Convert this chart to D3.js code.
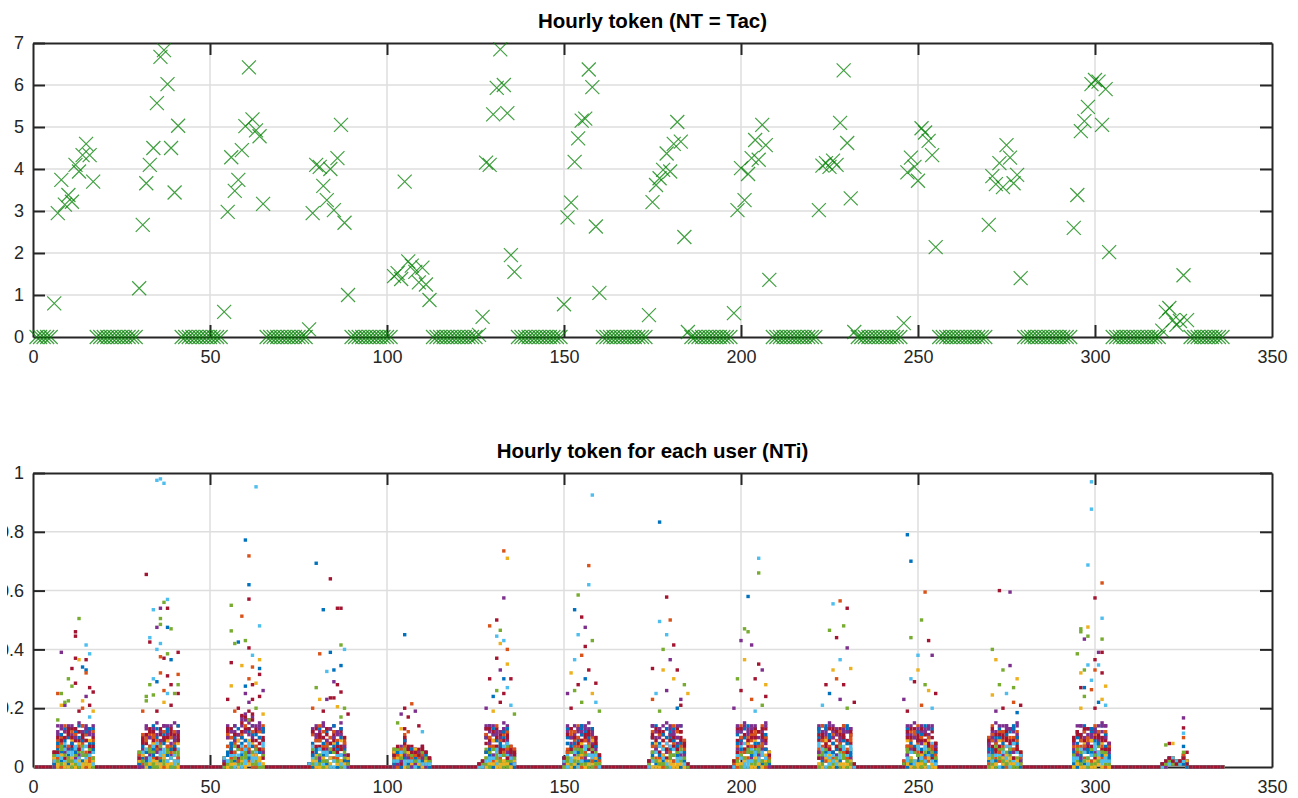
<!DOCTYPE html>
<html><head><meta charset="utf-8">
<script src="https://cdn.jsdelivr.net/npm/d3@7"></script>
<style>body{margin:0;background:#fff}svg text{font-family:"Liberation Sans",Arial,Helvetica,sans-serif}</style>
</head><body>
<svg id="c" width="1298" height="798"></svg>
<script>
// ---------- DATA ----------
// hourly token NT (hours 1..336), one row per day
const ntValues = [
0,0,0,0,0,0.8,2.95,3.74,3.15,3.38,3.22,4.1,3.94,4.33,4.6,4.33,3.7,0,0,0,0,0,0,0,
0,0,0,0,0,1.16,2.67,3.66,4.1,4.5,5.57,6.67,6.83,6.02,4.5,3.44,5.03,0,0,0,0,0,0,0,
0,0,0,0,0,0.6,2.98,4.28,3.48,3.74,4.45,5.02,6.42,5.18,4.92,4.78,3.17,0,0,0,0,0,0,0,
0,0,0,0,0,0.18,2.95,4.1,4.05,3.6,3.26,4.0,3.02,4.26,5.05,2.72,1.0,0,0,0,0,0,0,0,
0,0,0,0,0,1.45,1.52,1.38,3.7,1.8,1.7,1.55,1.3,1.65,1.25,0.88,0,0,0,0,0,0,0,0,
0,0,0,0,0,0.05,0.48,4.15,4.1,5.3,5.93,6.85,6.0,5.33,1.95,1.55,0,0,0,0,0,0,0,0,
0,0,0,0,0,0.78,2.85,3.2,4.17,4.73,5.15,5.2,6.37,5.95,2.63,1.05,0,0,0,0,0,0,0,0,
0,0,0,0,0,0.52,3.21,3.62,3.78,3.98,4.37,3.94,4.6,5.12,4.65,2.38,0.12,0,0,0,0,0,0,0,
0,0,0,0,0,0.57,3.02,4.02,3.26,3.88,4.26,4.69,4.22,5.05,4.57,1.36,0,0,0,0,0,0,0,0,
0,0,0,0,0,3.02,4.08,4.14,4.05,4.2,4.1,5.1,6.35,4.62,3.3,0.12,0,0,0,0,0,0,0,0,
0,0,0,0,0,0.33,3.92,4.27,4.05,3.72,4.97,4.87,4.67,4.33,2.14,0,0,0,0,0,0,0,0,0,
0,0,0,0,0,2.67,3.83,3.64,4.14,3.57,4.57,4.27,3.66,3.86,1.4,0,0,0,0,0,0,0,0,0,
0,0,0,0,0,2.6,3.38,4.9,5.14,5.48,6.02,6.12,6.08,5.05,5.9,2.02,0,0,0,0,0,0,0,0,
0,0,0,0,0,0,0.15,0.6,0.69,0.4,0.29,0.38,1.47,0.4,0,0,0,0,0,0,0,0,0,0
];
const xTicks = [0,50,100,150,200,250,300,350];
const ntTicks = [0,1,2,3,4,5,6,7];
const ntiTicks = [0,0.2,0.4,0.6,0.8,1];
const ntiTickLabels = ["0","0.2","0.4","0.6","0.8","1"];
const userColors = ["#0072BD","#D95319","#EDB120","#7E2F8E","#77AC30","#4DBEEE","#A2142F"];
const titles = ["Hourly token (NT = Tac)","Hourly token for each user (NTi)"];

// per-user hourly token inside each active window: one string per hour,
// one character per user (21 users), value in hundredths (base 36 digit)
const bandStart = [6,30,54,78,102,126,150,174,198,222,246,270,294,319];
const bandHours = [
 ["130421502314051230425","692b317470e52a831c245","5a3d608281974bb04e139","7c2a526d6150839e0c46a","4b2d17ca53e30b170625d","d29b6476a1803d8c3e25a","290316bc51d4795b0a12d","e38c529071463ca62f016","470e52a281974b9e0c46a","b04e1394b2d17cc51d479","170625d831c245d29b647","d6150838c3e25a692b317"],
 ["241503103521401420533","592813a3b064187140259","a53e30b5a3d608290316b","5b0a12d7c2a526071463c","6a1803de38c5294b2d17c","a62f016692b317d615083","831c245170625d281974b","9e0c46ab04e1398c3e25a","c51d479d29b647470e52a","071463ca53e30b6a1803d","281974ba62f0167c2a526","290316b9e0c46ae38c529"],
 ["130213021013200312031","4b2d17c470e52a5b0a12d","7c2a5266a1803d831c245","e38c529281974ba53e30b","692b317290316bd29b647","8c3g25a4b2h17ca63e30f","692i31d570g52c9e0c46h","c51f47gd29b64j3615g8d","e38h529b04e13i7c2a52g","170625d071463cb04e139","8c3e25a5a3d608a62f016","9e0c46ac51d479d615083"],
 ["010010100101001001010","831c245071463c4b2d17c","b04e1395b0a12d692b317","d29b6479e0c46a290316b","470e52aa62f0168c3e25a","c51d479281974b170625d","d6150836a1803d5a3d608","a53e30be38c5297c2a526","071463c692b317831c245","4b2d17cd29b647a62f016","39160286a04317281750a","130241304213022130144"],
 ["251630440612351350624","360514214260535031627","421703525306140642351","6a1934d37095289b0461a","517324636205171453026","264150741523626310425","153402652063143461205","413025325041360315424","362714561503272403516","241303513052434120315","130212320310120213213"],
 ["000010001000000001001","102011021010200210102","5a3d608a53e30b5b0a12d","e38c529470e52a6a1803d","b04e139d29b647071463c","170625d692b3179e0c46a","290316b7c2a526831c245","a62f0164b2d17cc51d479","281974b8c3e25ad615083","361502752034161704235","250413641305240621315"],
 ["213010310232123201023","d615083831c245a53e30b","6a1803d5b0a12d7c2a526","692b317071463c8c3e25a","9e0c46a170625d5a3d608","d29b647b04e139e38c529","470e52ac51d479290316b","4b2d17ca62f016281974b","831c2456a1803dd29b647","4a17209281350a7036148","203141314023243210104"],
 ["102101201202112012102","8c3e25aa53e30b470e52a","7c2a526e38c529170625d","5b0a12d831c2454b2d17c","071463c290316bb04e139","5a3d608d615083a62f016","a53e30b692b317c51d479","281974bd29b6479e0c46a","6a1803d470e52a7c2a526","e38c5298c3e25a071463c","381502959072172604318","010100010001010010011"],
 ["201012112010120120202","170625db04e139831c245","c51d4799e0c46a6a1803d","d615083a62f016a53e30b","692b3175a3d608e38c529","290316b4b2d17c470e52a","d29b6475b0a12d8c3e25a","831c2457c2a526071463c","9e0c46a281974b170625d","a62f0166a1803db04e139","251403540321531350244"],
 ["a53e30bc51d479d615083","470e52a9e0c46a290316b","e38c5295a3d608d29b647","b04e139170625da62f016","8c3e25a831c2455b0a12d","4b2d17c071463c692b317","6a1803d7c2a526281974b","c51d479a53e30b9e0c46a","d615083e38c529831c245","5a3d608290316b4b2d17c","100010000100100100101"],
 ["010201010010010201100","d29b647470e52a071463c","692b3178c3e25a170625d","5b0a12da62f0167c2a526","281974b9e0c46ac51d479","831c245b04e1396a1803d","4b2d17c290316be38c529","a53e30bd29b6475a3d608","071463cd615083470e52a","371502858062162407318"],
 ["491720a2a053186138049","9e0c46a692b3175b0a12d","a62f016831c245281974b","7c2a526d29b647a53e30b","290316b071463c8c3e25a","470e52a4b2d17cb04e139","170625dc51d4795a3d608","6a1803de38c529d615083","8c3e25a692b317a62f016","251304541052340352145"],
 ["3a16209591402a1708439","831c245a53e30b071463c","b04e139470e52a290316b","e38c5297c2a526170625d","5a3d6086a1803d692b317","c51d4795b0a12dd29b647","d6150834b2d17c9e0c46a","281974b831c2458c3e25a","a62f016e38c529470e52a","a53e30bb04e1397c2a526","281603747052183608126"],
 ["001010010000100101001","112021120111021210122","213122313221323213213","222132231122231232132","212212212212122112221","121221221211211222112","231342331422341423323","110121120111020121111"]
];
// isolated higher per-user values: [hour, NTi, colour index]
const spikes = [
 [8,0.39,3],[7,0.25,1],[8,0.25,4],[8,0.21,2],[9,0.21,3],[10,0.30,4],[11,0.275,4],[10,0.225,4],[9,0.22,4],[11,0.335,6],[12,0.46,6],[12,0.445,6],[12,0.37,6],[13,0.365,2],[12,0.285,6],[13,0.505,4],[14,0.34,0],[15,0.33,0],[15,0.365,6],[15,0.415,5],[16,0.385,5],[15,0.32,1],[16,0.27,6],[17,0.255,6],[14,0.225,2],[15,0.24,3],[16,0.21,6],[17,0.19,2],[13,0.19,6],[7,0.16,4],[14,0.2,1],[16,0.17,5],
 [32,0.655,6],[34,0.535,5],[36,0.54,3],[38,0.54,6],[37,0.56,4],[38,0.57,5],[36,0.505,4],[36,0.485,4],[35,0.475,3],[38,0.475,0],[39,0.47,4],[33,0.44,5],[33,0.425,6],[36,0.42,5],[35,0.40,5],[38,0.385,4],[41,0.39,6],[36,0.375,1],[37,0.37,6],[39,0.365,0],[36,0.32,1],[38,0.31,6],[41,0.315,1],[34,0.30,5],[35,0.29,0],[33,0.28,4],[39,0.28,6],[41,0.28,4],[34,0.245,4],[37,0.26,1],[38,0.25,5],[41,0.25,6],[40,0.25,4],[32,0.24,4],[37,0.22,2],[39,0.21,6],[35,0.19,6],[32,0.225,4],[31,0.19,1],[35,0.975,5],[36,0.98,5],[37,0.965,5],
 [63,0.953,5],[60,0.772,0],[61,0.718,1],[61,0.62,0],[61,0.571,6],[56,0.55,4],[59,0.513,1],[64,0.48,5],[56,0.463,4],[60,0.43,4],[58,0.425,0],[57,0.42,4],[61,0.405,6],[62,0.38,5],[59,0.345,2],[56,0.355,6],[64,0.365,2],[62,0.34,1],[64,0.335,0],[64,0.315,6],[60,0.275,0],[63,0.285,2],[61,0.30,1],[62,0.28,6],[56,0.276,2],[65,0.26,3],[55,0.23,6],[64,0.24,6],[62,0.23,6],[61,0.22,3],[60,0.25,3],[58,0.20,6],[57,0.19,1],[63,0.2,4],[59,0.175,6],[65,0.18,2],
 [80,0.693,0],[84,0.64,6],[82,0.535,0],[86,0.54,6],[87,0.54,6],[87,0.415,4],[88,0.40,5],[81,0.385,1],[84,0.39,0],[83,0.325,5],[85,0.33,0],[87,0.345,0],[86,0.28,6],[87,0.255,6],[80,0.27,4],[81,0.23,2],[83,0.23,3],[84,0.235,6],[85,0.235,6],[86,0.205,2],[87,0.17,4],[88,0.2,4],[82,0.19,6],[79,0.2,1],[85,0.29,3],[89,0.18,6],
 [105,0.45,0],[107,0.215,1],[105,0.2,6],[104,0.18,3],[108,0.19,3],[106,0.17,6],[103,0.15,4],[109,0.14,6],[110,0.12,5],[104,0.13,2],[106,0.12,1],
 [133,0.735,1],[134,0.71,2],[133,0.575,3],[131,0.50,6],[129,0.48,1],[132,0.465,4],[133,0.43,5],[134,0.40,1],[131,0.37,6],[132,0.33,3],[134,0.35,2],[129,0.30,6],[131,0.26,4],[134,0.27,5],[132,0.22,6],[130,0.24,0],[133,0.25,6],[135,0.21,5],[136,0.18,4],[128,0.2,3],[130,0.19,2],[133,0.3,0],[135,0.3,6],[132,0.42,2],[131,0.445,5],
 [158,0.925,5],[157,0.685,1],[157,0.62,5],[154,0.585,4],[153,0.535,0],[155,0.51,6],[156,0.475,3],[156,0.41,6],[153,0.365,5],[158,0.43,4],[152,0.32,2],[151,0.25,3],[154,0.28,6],[159,0.285,6],[158,0.25,2],[155,0.22,4],[152,0.2,6],[157,0.33,6],[159,0.22,5],[160,0.19,4],[156,0.3,0],[155,0.38,1],[154,0.45,5],[153,0.26,4],
 [177,0.833,0],[179,0.578,6],[180,0.50,1],[177,0.495,5],[181,0.415,6],[178,0.40,4],[175,0.335,6],[178,0.33,2],[180,0.365,3],[182,0.33,6],[184,0.28,4],[185,0.25,2],[175,0.23,1],[179,0.26,3],[177,0.19,4],[183,0.21,6],[181,0.3,2],[176,0.25,5],[182,0.2,0],[179,0.45,5],[183,0.23,3],
 [205,0.71,5],[205,0.66,4],[202,0.58,0],[201,0.47,4],[202,0.46,4],[200,0.43,3],[203,0.415,3],[201,0.365,2],[205,0.35,6],[199,0.30,4],[200,0.26,6],[207,0.28,2],[203,0.23,1],[206,0.21,4],[204,0.3,6],[198,0.2,3],[204,0.19,5],[207,0.24,6],[206,0.33,3],
 [228,0.565,1],[226,0.555,5],[230,0.54,6],[229,0.48,4],[225,0.465,4],[227,0.44,6],[230,0.405,3],[228,0.365,5],[226,0.33,2],[231,0.335,2],[224,0.28,6],[228,0.23,3],[230,0.2,4],[223,0.21,5],[227,0.3,1],[232,0.22,6],[225,0.25,0],[229,0.28,6],
 [247,0.79,0],[248,0.70,0],[252,0.595,1],[251,0.50,4],[248,0.44,4],[253,0.43,6],[250,0.38,5],[254,0.38,3],[248,0.30,5],[249,0.29,6],[253,0.26,2],[246,0.23,3],[251,0.21,1],[255,0.25,6],[250,0.33,2],[252,0.28,4],[254,0.2,5],[247,0.19,6],
 [273,0.60,6],[276,0.595,3],[271,0.40,4],[272,0.365,2],[274,0.33,4],[276,0.345,3],[277,0.27,4],[278,0.30,2],[271,0.245,2],[279,0.21,6],[272,0.19,3],[275,0.25,5],[277,0.22,1],[274,0.2,6],[278,0.185,0],[273,0.28,4],
 [299,0.97,5],[299,0.877,5],[298,0.687,5],[302,0.626,1],[300,0.575,6],[302,0.506,5],[298,0.476,2],[296,0.47,4],[296,0.46,4],[298,0.445,4],[297,0.435,3],[302,0.435,4],[295,0.385,4],[301,0.39,3],[302,0.39,6],[300,0.365,6],[298,0.347,5],[301,0.347,5],[296,0.32,2],[297,0.33,4],[300,0.33,1],[299,0.295,5],[302,0.32,6],[296,0.27,6],[297,0.27,0],[299,0.263,1],[303,0.275,2],[297,0.24,4],[302,0.23,2],[296,0.2,2],[300,0.2,6],[301,0.22,0],[303,0.21,5],
 [320,0.075,4],[321,0.08,6],[322,0.08,2],[325,0.167,3],[325,0.133,6],[325,0.115,5],[325,0.1,1],[325,0.07,0],[326,0.05,6],[325,0.05,4]
];

// ---------- DRAW ----------
const L = 33, R = 1272, nUsers = 21;
const svg = d3.select("#c");
const x = d3.scaleLinear().domain([0, 350]).range([L, R]);
const axisColor = "#262626", gridColor = "#dedede";

function panel(top, bottom, yDomain, yTicks, yFmt, title, titleY) {
  const y = d3.scaleLinear().domain(yDomain).range([bottom, top]);
  const g = svg.append("g");
  g.append("g").selectAll("line").data(yTicks.slice(1, -1)).join("line")
    .attr("x1", L).attr("x2", R).attr("y1", d => y(d)).attr("y2", d => y(d))
    .attr("stroke", gridColor).attr("stroke-width", 1.5);
  g.append("g").selectAll("line").data(xTicks.slice(1, -1)).join("line")
    .attr("x1", d => x(d)).attr("x2", d => x(d)).attr("y1", top).attr("y2", bottom)
    .attr("stroke", gridColor).attr("stroke-width", 1.5);
  const axes = g.append("g");
  axes.append("g").attr("transform", `translate(0,${bottom})`)
    .call(d3.axisBottom(x).tickValues(xTicks).tickSizeInner(-12).tickSizeOuter(0).tickPadding(13));
  axes.append("g").attr("transform", `translate(0,${top})`)
    .call(d3.axisTop(x).tickValues(xTicks).tickSizeInner(-12).tickSizeOuter(0).tickFormat(""));
  axes.append("g").attr("transform", `translate(${L},0)`)
    .call(d3.axisLeft(y).tickValues(yTicks).tickSizeInner(-12).tickSizeOuter(0).tickPadding(9).tickFormat(yFmt));
  axes.append("g").attr("transform", `translate(${R},0)`)
    .call(d3.axisRight(y).tickValues(yTicks).tickSizeInner(-12).tickSizeOuter(0).tickFormat(""));
  axes.selectAll("path.domain").attr("stroke", axisColor).attr("stroke-width", 2);
  axes.selectAll(".tick line").attr("stroke", axisColor).attr("stroke-width", 2);
  axes.selectAll(".tick text").attr("fill", axisColor).attr("font-size", 18)
    .attr("font-family", '"Liberation Sans",Arial,sans-serif');
  axes.selectAll(".tick").filter(d => d === xTicks[0] || d === xTicks[xTicks.length-1]).select("line").attr("opacity", 0);
  svg.append("text").attr("x", (L + R) / 2).attr("y", titleY).attr("text-anchor", "middle")
    .attr("font-weight", "bold").attr("font-size", 20.5).attr("fill", "#000").text(title);
  return { g, y };
}

// top panel
const p1 = panel(43, 337, [0, 7], ntTicks, d => d, titles[0], 28);
const hours = ntValues.map((v, i) => i + 1);
p1.g.append("g").selectAll("path").data(hours).join("path")
  .attr("transform", h => `translate(${x(h)},${p1.y(ntValues[h - 1])})`)
  .attr("d", "M-7,-7L7,7M-7,7L7,-7")
  .attr("stroke", "#008000").attr("stroke-width", 1.2).attr("stroke-opacity", 0.75).attr("fill", "none");

// bottom panel
const p2 = panel(473, 767, [0, 1], ntiTicks, (d, i) => ntiTickLabels[i], titles[1], 458);
const hourToBand = new Map();
bandStart.forEach((s, w) => bandHours[w].forEach((str, k) => hourToBand.set(s + k, str)));
const pts = [];
for (let u = 0; u < nUsers; u++) {
  for (const h of hours) {
    const str = hourToBand.get(h);
    const v = str ? parseInt(str[u], 36) / 100 : 0;
    pts.push({ h, v, c: u % 7 });
  }
}
spikes.forEach(([h, v, c]) => pts.push({ h, v, c }));
const ms = 3.4;
p2.g.append("g").selectAll("rect").data(pts).join("rect")
  .attr("x", d => x(d.h) - ms / 2).attr("y", d => p2.y(d.v) - ms / 2)
  .attr("width", ms).attr("height", ms).attr("fill", d => userColors[d.c]);

// the figure is cropped at its left edge
svg.append("rect").attr("x", 0).attr("y", 440).attr("width", 7).attr("height", 358).attr("fill", "#fff");
</script>
</body></html>
